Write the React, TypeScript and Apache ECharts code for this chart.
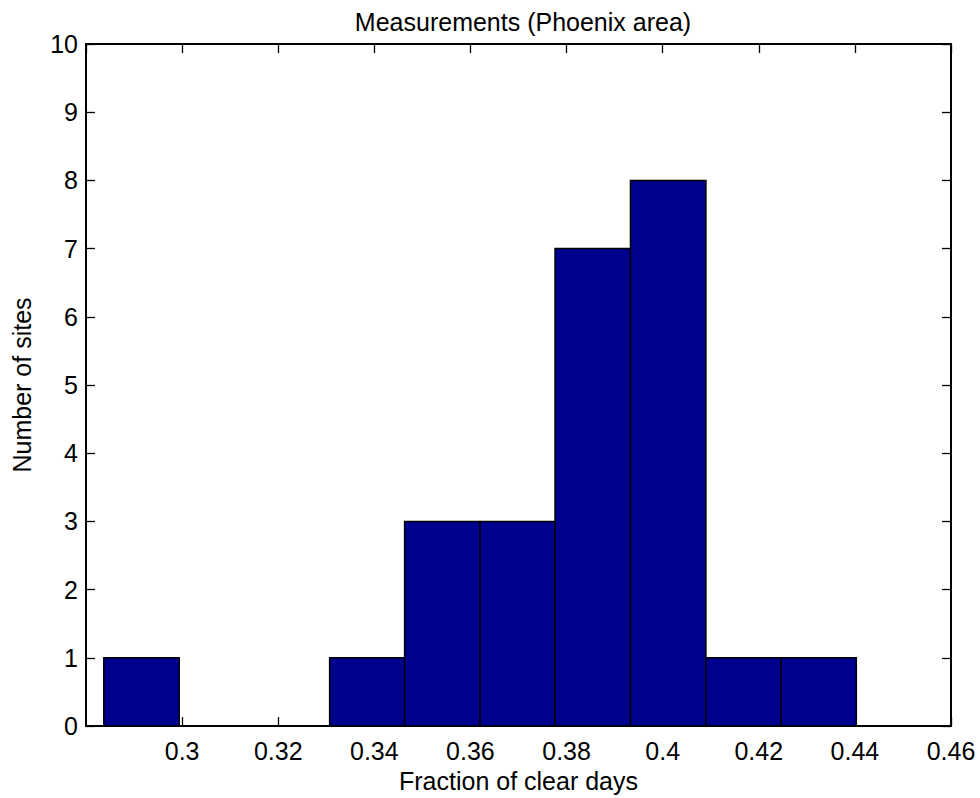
import React, { useEffect, useRef } from "react";
import * as echarts from "echarts";

// Histogram data
const binEdges = [0.2837, 0.2994, 0.3150, 0.3307, 0.3463, 0.3620, 0.3776, 0.3933, 0.4090, 0.4246, 0.4403];
const counts = [1, 0, 0, 1, 3, 3, 7, 8, 1, 1];
const titleText = "Measurements (Phoenix area)";
const xName = "Fraction of clear days";
const yName = "Number of sites";
const xMin = 0.28;
const xMax = 0.46;
const xStep = 0.02;
const yMin = 0;
const yMax = 10;
const yStep = 1;

const FONT = "'Liberation Sans', Arial, Helvetica, sans-serif";
const FILL = "#00008F";

export default function App() {
  const ref = useRef<HTMLDivElement>(null);
  useEffect(() => {
    if (!ref.current) return;
    const chart = echarts.init(ref.current, undefined, { renderer: "svg" });
    const data = counts.map((c, i) => [binEdges[i], binEdges[i + 1], c]);
    const fmtX = (v: number) => (v < xMin + xStep / 2 ? "" : String(parseFloat(v.toFixed(2))));
    const tickStyle = { show: true, inside: true, length: 9, lineStyle: { color: "#000", width: 1.3 } };
    chart.setOption({
      animation: false,
      backgroundColor: "#fff",
      textStyle: { fontFamily: FONT },
      title: {
        text: titleText,
        left: 518,
        top: 4,
        textAlign: "center",
        textStyle: { fontFamily: FONT, fontSize: 25, fontWeight: "normal", color: "#000" },
      },
      grid: { left: 86, right: 29, top: 44, bottom: 71, containLabel: false },
      xAxis: [
        {
          type: "value",
          min: xMin,
          max: xMax,
          interval: xStep,
          position: "bottom",
          name: xName,
          nameLocation: "middle",
          nameGap: 42,
          nameTextStyle: { fontFamily: FONT, fontSize: 25, color: "#000" },
          axisLine: { show: true, onZero: false, lineStyle: { color: "#000", width: 2 } },
          axisTick: tickStyle,
          axisLabel: { show: true, margin: 12, fontFamily: FONT, fontSize: 25, color: "#000", formatter: fmtX, showMinLabel: false },
          splitLine: { show: false },
        },
        {
          type: "value",
          min: xMin,
          max: xMax,
          interval: xStep,
          position: "top",
          axisLine: { show: true, onZero: false, lineStyle: { color: "#000", width: 2 } },
          axisTick: tickStyle,
          axisLabel: { show: false },
          splitLine: { show: false },
        },
      ],
      yAxis: [
        {
          type: "value",
          min: yMin,
          max: yMax,
          interval: yStep,
          position: "left",
          name: yName,
          nameLocation: "middle",
          nameGap: 52,
          nameTextStyle: { fontFamily: FONT, fontSize: 25, color: "#000" },
          axisLine: { show: true, onZero: false, lineStyle: { color: "#000", width: 2 } },
          axisTick: tickStyle,
          axisLabel: { show: true, margin: 8, fontFamily: FONT, fontSize: 25, color: "#000" },
          splitLine: { show: false },
        },
        {
          type: "value",
          min: yMin,
          max: yMax,
          interval: yStep,
          position: "right",
          axisLine: { show: true, onZero: false, lineStyle: { color: "#000", width: 2 } },
          axisTick: tickStyle,
          axisLabel: { show: false },
          splitLine: { show: false },
        },
      ],
      series: [
        {
          type: "custom",
          xAxisIndex: 0,
          yAxisIndex: 0,
          data,
          renderItem: (params: any, api: any) => {
            const x0 = api.value(0);
            const x1 = api.value(1);
            const c = api.value(2);
            if (!c) return null;
            const p0 = api.coord([x0, c]);
            const p1 = api.coord([x1, 0]);
            return {
              type: "rect",
              shape: { x: p0[0], y: p0[1], width: p1[0] - p0[0], height: p1[1] - p0[1] },
              style: { fill: FILL, stroke: "#000", lineWidth: 1.5 },
            };
          },
          z: 1,
        },
      ],
    });
    return () => chart.dispose();
  }, []);
  return <div ref={ref} style={{ width: 980, height: 798, position: "absolute", left: 0, top: 0 }} />;
}
